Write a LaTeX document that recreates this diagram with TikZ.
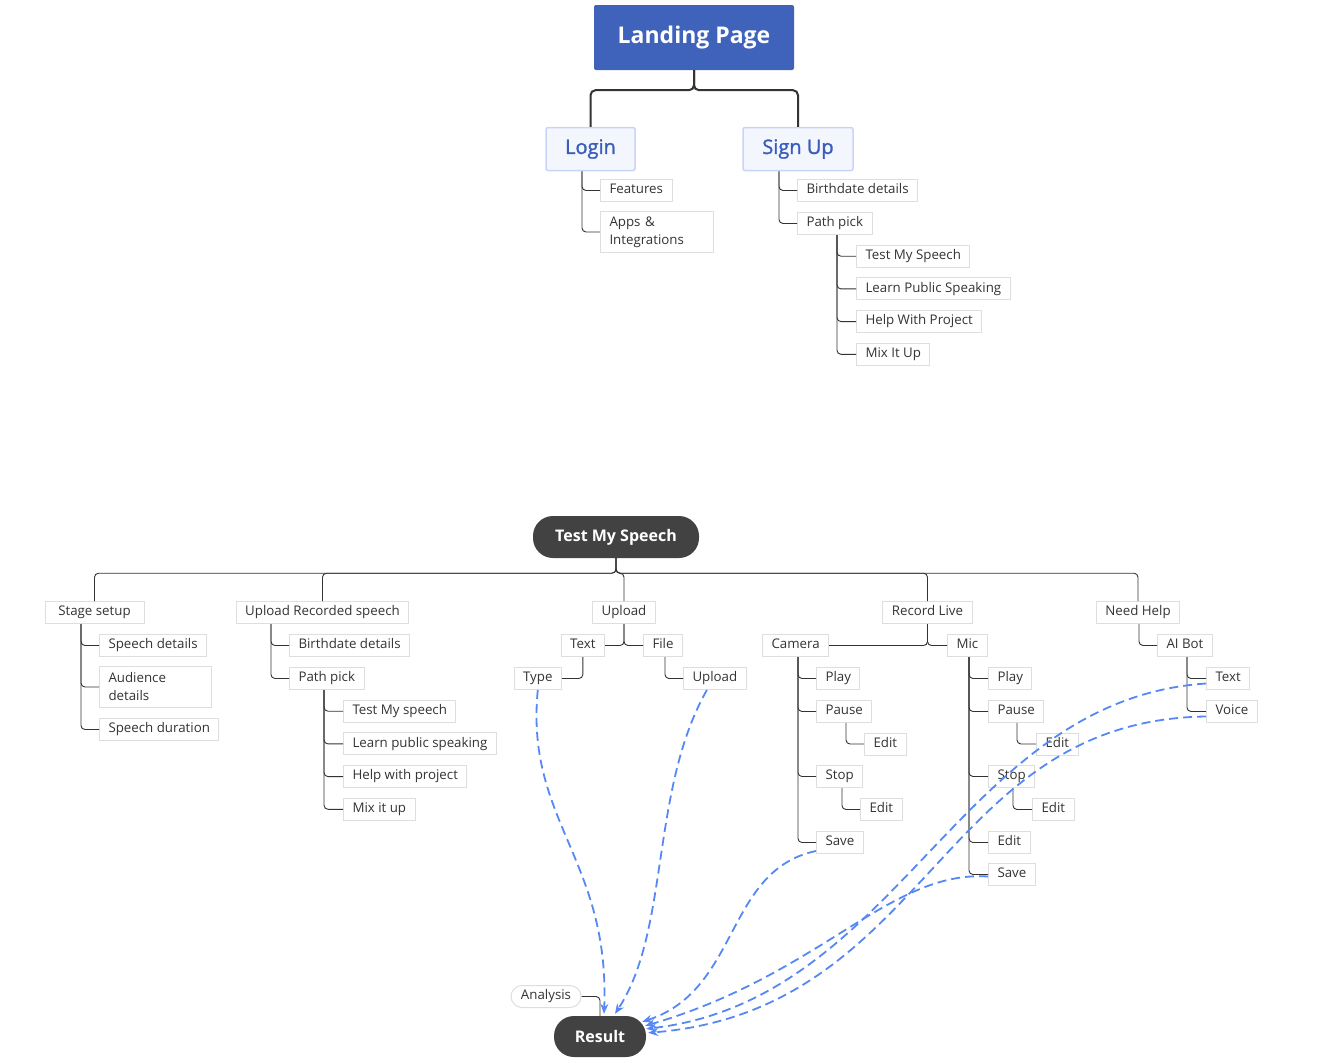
\documentclass[tikz,border=0pt]{standalone}
\usepackage{fontspec}
\setmainfont{Open Sans}
\newfontfamily\semifont[FakeBold=1.3]{Open Sans}
\usetikzlibrary{arrows.meta}
\definecolor{landblue}{RGB}{63,98,186}
\definecolor{loginfill}{RGB}{244,246,254}
\definecolor{loginedge}{RGB}{200,212,248}
\definecolor{logintext}{RGB}{58,92,186}
\definecolor{boxedge}{RGB}{222,222,222}
\definecolor{inktext}{RGB}{51,51,51}
\definecolor{pillgray}{RGB}{66,66,66}
\definecolor{flowblue}{RGB}{85,135,245}

\begin{document}
\begin{tikzpicture}[x=1pt,y=-1pt,
  leaf/.style={draw=boxedge,fill=white,line width=1pt,text=inktext,
    font=\fontsize{13.3}{18}\selectfont,inner xsep=9pt,inner ysep=0pt,minimum height=22pt,
    text height=9.8pt,text depth=3.2pt},
  twoline/.style={leaf,align=left,minimum height=41pt,inner ysep=2pt,text height={},text depth={}},
  landbox/.style={fill=landblue,text=white,rounded corners=2pt,minimum width=200pt,
    minimum height=65pt,font=\fontsize{23}{28}\selectfont\bfseries},
  signbox/.style={draw=loginedge,fill=loginfill,line width=1.5pt,text=logintext,rounded corners=2pt,
    minimum height=43pt,font=\fontsize{20}{24}\semifont},
  darkpill/.style={fill=pillgray,text=white,rounded corners=20pt,minimum height=42pt,
    font=\fontsize{16}{20}\selectfont\bfseries},
  softpill/.style={leaf,rounded corners=11pt},
  conn/.style={draw=inktext,line width=0.9pt,rounded corners=4pt},
  thickconn/.style={draw=inktext,line width=2pt,rounded corners=5pt},
  flow/.style={draw=flowblue,line width=1.8pt,dash pattern=on 9pt off 5pt,
    -{Stealth[length=10pt,width=8pt]}}]
\useasboundingbox (0,0) rectangle (1318,1063);

% landing page
\node[landbox] (landing) at (694,37.5) {Landing Page};
\node[signbox,minimum width=89pt] (login) at (590.5,149) {Login};
\node[signbox,minimum width=110pt] (signup) at (798,149) {Sign Up};
\draw[thickconn] (landing.south) -- ++(0,20) -| (login.north);
\draw[thickconn] (landing.south) -- ++(0,20) -| (signup.north);

% login branch
\node[leaf,anchor=west] (feat) at (600,190.5) {Features};
\node[twoline,anchor=west,text width=95pt] (apps) at (600,232) {Apps \&\\Integrations};
\draw[conn] ([xshift=-8.5]login.south) |- (feat.west);
\draw[conn] ([xshift=-8.5]login.south) |- (apps.west);

% sign up branch
\node[leaf,anchor=west] (sbirth) at (797,190.5) {Birthdate details};
\node[leaf,anchor=west] (spath) at (797,223.5) {Path pick};
\draw[conn] ([xshift=-19]signup.south) |- (sbirth.west);
\draw[conn] ([xshift=-19]signup.south) |- (spath.west);
\foreach \t [count=\i] in {Test My Speech,Learn Public Speaking,Help With Project,Mix It Up} {
  \node[leaf,anchor=west] (spp\i) at (856,{223.5+32.7*\i}) {\t};
  \draw[conn] ([xshift=40]spath.south west) |- (spp\i.west);
}

% test my speech
\node[darkpill,minimum width=166pt] (tms) at (616,537) {Test My Speech};
\node[leaf,minimum width=99pt] (stage) at (94.5,612.5) {Stage setup};
\node[leaf] (urs) at (322.5,612.5) {Upload Recorded speech};
\node[leaf] (upl) at (624,612.5) {Upload};
\node[leaf] (rlive) at (927.5,612.5) {Record Live};
\node[leaf] (nhelp) at (1138,612.5) {Need Help};
\foreach \n in {stage,urs,upl,rlive,nhelp}
  \draw[conn] (tms.south) -- ++(0,15) -| (\n.north);

% stage setup
\node[leaf,anchor=west] (sdet) at (99,645.5) {Speech details};
\node[twoline,anchor=west,text width=94pt] (aud) at (99,687) {Audience\\details};
\node[leaf,anchor=west] (sdur) at (99,729.5) {Speech duration};
\foreach \n in {sdet,aud,sdur}
  \draw[conn] ([xshift=-13.5]stage.south) |- (\n.west);

% upload recorded speech
\node[leaf,anchor=west] (ubirth) at (289,645.5) {Birthdate details};
\node[leaf,anchor=west] (upath) at (289,678.5) {Path pick};
\draw[conn] ([xshift=-51.5]urs.south) |- (ubirth.west);
\draw[conn] ([xshift=-51.5]urs.south) |- (upath.west);
\foreach \t [count=\i] in {Test My speech,Learn public speaking,Help with project,Mix it up} {
  \node[leaf,anchor=west] (upp\i) at (343,{678.5+32.7*\i}) {\t};
  \draw[conn] ([xshift=35]upath.south west) |- (upp\i.west);
}

% upload
\node[leaf,anchor=east] (utext) at (605,645.5) {Text};
\node[leaf,anchor=west] (ufile) at (643,645.5) {File};
\node[leaf,anchor=east] (utype) at (562,678.5) {Type};
\node[leaf,anchor=west] (fupl) at (683,678.5) {Upload};
\draw[conn] (upl.south) |- (utext.east);
\draw[conn] (upl.south) |- (ufile.west);
\draw[conn] (utext.south) |- (utype.east);
\draw[conn] ([xshift=22]ufile.south west) |- (fupl.west);

% record live
\node[leaf,anchor=west] (cam) at (762,645.5) {Camera};
\node[leaf,anchor=west] (mic) at (947,645.5) {Mic};
\draw[conn] (rlive.south) |- (cam.east);
\draw[conn] (rlive.south) |- (mic.west);
% camera
\node[leaf,anchor=west] (cplay) at (816,678.5) {Play};
\node[leaf,anchor=west] (cpause) at (816,711.5) {Pause};
\node[leaf,anchor=west] (cstop) at (816,776.5) {Stop};
\node[leaf,anchor=west] (csave) at (816,842.5) {Save};
\node[leaf,anchor=west] (cpedit) at (864,744) {Edit};
\node[leaf,anchor=west] (csedit) at (860,809.5) {Edit};
\foreach \n in {cplay,cpause,cstop,csave}
  \draw[conn] ([xshift=36]cam.south west) |- (\n.west);
\draw[conn] ([xshift=30]cpause.south west) |- (cpedit.west);
\draw[conn] ([xshift=26]cstop.south west) |- (csedit.west);
% mic
\node[leaf,anchor=west] (mplay) at (988,678.5) {Play};
\node[leaf,anchor=west] (mpause) at (988,711.5) {Pause};
\node[leaf,anchor=west] (mstop) at (988,776.5) {Stop};
\node[leaf,anchor=west] (medit) at (988,842.5) {Edit};
\node[leaf,anchor=west] (msave) at (988,874.5) {Save};
\node[leaf,anchor=west] (mpedit) at (1036,744) {Edit};
\node[leaf,anchor=west] (msedit) at (1032,809.5) {Edit};
\foreach \n in {mplay,mpause,mstop,medit,msave}
  \draw[conn] ([xshift=22]mic.south west) |- (\n.west);
\draw[conn] ([xshift=29]mpause.south west) |- (mpedit.west);
\draw[conn] ([xshift=25]mstop.south west) |- (msedit.west);

% need help
\node[leaf,anchor=west] (aibot) at (1157,645.5) {AI Bot};
\node[leaf,anchor=west] (btext) at (1206,678.5) {Text};
\node[leaf,anchor=west] (bvoice) at (1206,711.5) {Voice};
\draw[conn] ([xshift=1]nhelp.south) |- (aibot.west);
\draw[conn] ([xshift=30]aibot.south west) |- (btext.west);
\draw[conn] ([xshift=30]aibot.south west) |- (bvoice.west);

% result
\node[darkpill,minimum width=92pt,minimum height=41pt] (result) at (600,1036.5) {Result};
\node[softpill,minimum width=70pt] (analysis) at (546,996.5) {Analysis};
\draw[conn] (analysis.east) -| (result.north);

%dashed flows into result
\draw[flow] (utype.south) .. controls (525,820) and (610,860) .. ([xshift=4,yshift=2]result.north);
\draw[flow] ([xshift=-8]fupl.south) .. controls (650,790) and (670,930) .. ([xshift=15,yshift=2]result.north);
\draw[flow] ([yshift=3]csave.south west) .. controls (725,870) and (740,990) .. ([shift={(-4,6)}]result.north east);
\draw[flow] ([yshift=-2]msave.west) .. controls (890,870) and (820,975) .. ([shift={(-1,10)}]result.north east);
\draw[flow] ([yshift=-5]btext.west) .. controls (960,700) and (900,1000) .. ([shift={(0,13)}]result.north east);
\draw[flow] ([yshift=-5]bvoice.west) .. controls (940,720) and (930,1010) .. ([shift={(2,17)}]result.north east);
\end{tikzpicture}
\end{document}
